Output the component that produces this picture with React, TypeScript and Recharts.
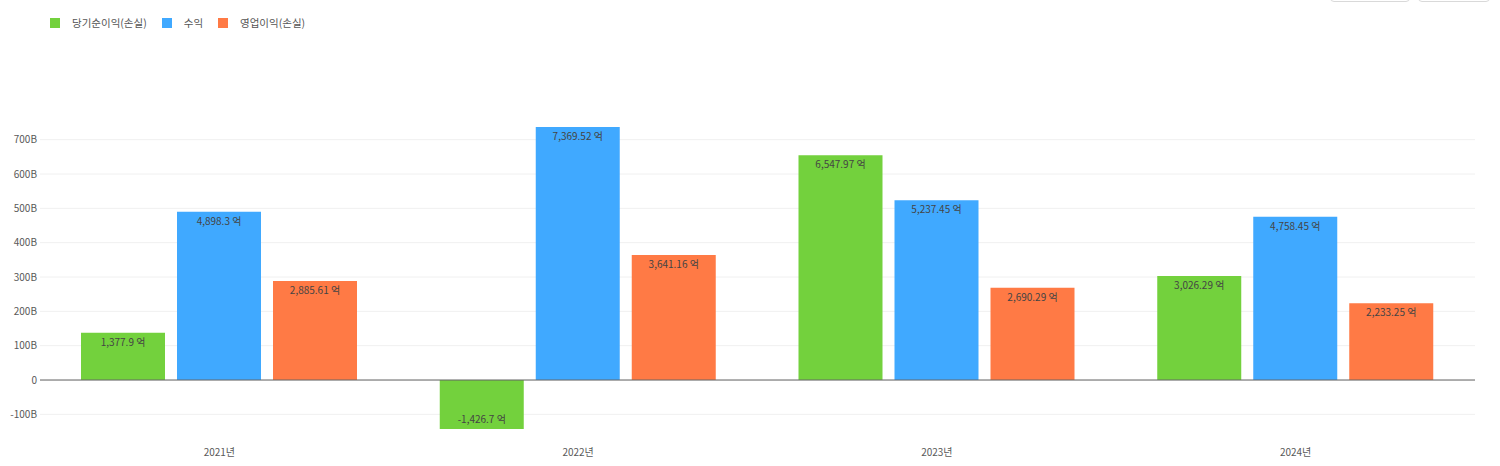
import React from 'react';
import { BarChart, Bar, XAxis, YAxis, CartesianGrid, ReferenceLine, LabelList } from 'recharts';

// values in 억 (1B = 10억)
const years = ['2021년', '2022년', '2023년', '2024년'];
const netIncome = [1377.9, -1426.7, 6547.97, 3026.29];
const revenue = [4898.3, 7369.52, 5237.45, 4758.45];
const operatingIncome = [2885.61, 3641.16, 2690.29, 2233.25];
const yTicks = [-1000, 0, 1000, 2000, 3000, 4000, 5000, 6000, 7000];

const series = [
  { key: 'net', name: '당기순이익(손실)', color: '#73D13D' },
  { key: 'rev', name: '수익', color: '#40A9FF' },
  { key: 'op', name: '영업이익(손실)', color: '#FF7A45' },
];

const data = years.map((y, i) => ({
  year: y,
  net: netIncome[i],
  rev: revenue[i],
  op: operatingIncome[i],
}));

const FONT = '"Noto Sans CJK KR", "Noto Sans", sans-serif';

const fmtLabel = (v: any) =>
  Number(v).toLocaleString('en-US', { maximumFractionDigits: 2 }) + ' 억';
const fmtTick = (v: number) => (v === 0 ? '0' : `${v / 10}B`);

export default function App() {
  return (
    <div style={{ position: 'absolute', left: 0, top: 0, width: 1500, height: 466, fontFamily: FONT, background: '#fff', overflow: 'hidden' }}>
      {/* legend */}
      <div style={{ position: 'absolute', left: 50, top: 15, display: 'flex', alignItems: 'center', fontSize: 10.5, color: '#555' }}>
        {series.map((s) => (
          <div key={s.key} style={{ display: 'flex', alignItems: 'center', marginRight: 15 }}>
            <div style={{ width: 10, height: 10, background: s.color, marginRight: 12 }} />
            <span>{s.name}</span>
          </div>
        ))}
      </div>

      {/* cropped buttons at top right */}
      <div style={{ position: 'absolute', left: 1330, top: -20, width: 80, height: 22, border: '1px solid #d9d9d9', borderRadius: 4, boxSizing: 'border-box' }} />
      <div style={{ position: 'absolute', left: 1418, top: -20, width: 72, height: 22, border: '1px solid #d9d9d9', borderRadius: 4, boxSizing: 'border-box' }} />

      <BarChart
        width={1500}
        height={466}
        data={data}
        margin={{ top: 127, right: 25, bottom: 0, left: 0 }}
        barSize={84}
        barGap={12}
      >
        <CartesianGrid vertical={false} stroke="#f0f0f0" horizontalValues={yTicks} />
        <XAxis
          dataKey="year"
          axisLine={false}
          tickLine={false}
          height={37}
          tickMargin={14}
          tick={{ fontSize: 10, fill: '#595959', fontFamily: FONT }}
        />
        <YAxis
          width={40}
          domain={[-1426.7, 7369.52]}
          ticks={yTicks}
          tickFormatter={fmtTick}
          axisLine={false}
          tickLine={false}
          tickSize={0}
          tickMargin={3}
          tick={{ fontSize: 10, fill: '#595959', fontFamily: FONT }}
        />
        <ReferenceLine y={0} stroke="#666" strokeWidth={1} />
        {series.map((s) => (
          <Bar key={s.key} dataKey={s.key} name={s.name} fill={s.color} isAnimationActive={false}>
            <LabelList
              dataKey={s.key}
              position="insideTop"
              offset={6}
              formatter={fmtLabel}
              style={{ fontSize: 10, fill: '#444', fontFamily: FONT }}
            />
          </Bar>
        ))}
      </BarChart>
    </div>
  );
}
